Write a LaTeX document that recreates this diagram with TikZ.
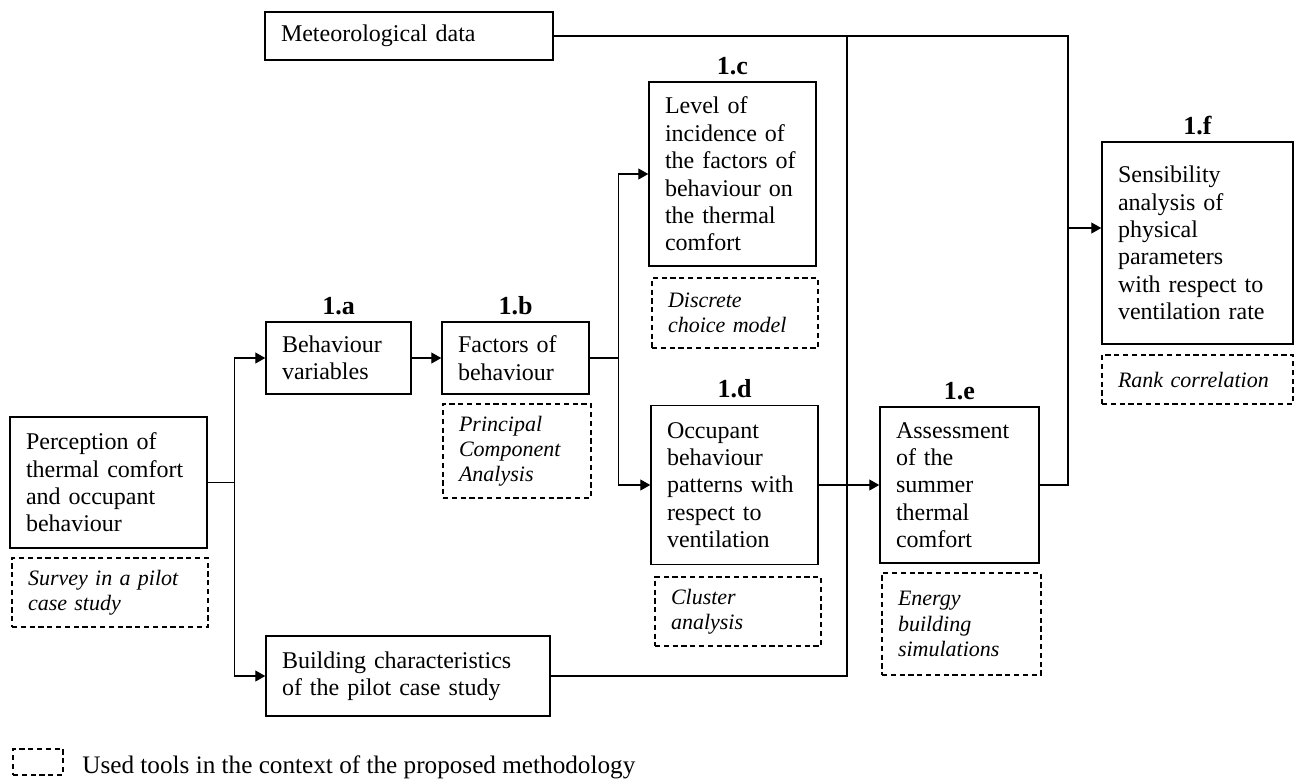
\documentclass[tikz,border=0pt]{standalone}
\usepackage{fontspec}
\setmainfont{Liberation Serif}
\usepackage{tikz}
\usetikzlibrary{arrows.meta, positioning}

\begin{document}
\begin{tikzpicture}[x=0.5pt, y=-0.5pt,
    stage/.style={draw, line width=0.75pt, align=left, inner xsep=8pt, inner ysep=0pt, font=\fontsize{12}{13.7}\selectfont},
    tool/.style={draw, dash pattern=on 2.6pt off 1.8pt, line width=0.6pt, align=left, inner xsep=8pt, inner ysep=0pt, font=\itshape\fontsize{11}{12.6}\selectfont},
    stagelabel/.style={inner sep=0pt, font=\bfseries\fontsize{13}{15}\selectfont},
    flow/.style={-{Triangle[length=5pt, width=5.5pt]}, line width=0.6pt},
    link/.style={line width=0.6pt}]
			\useasboundingbox (0,0) rectangle (1296,778);
			% boxes
			\node[stage, text width=128pt, minimum height=24pt] (met) at (409,36) {Meteorological data};
			\node[stage, text width=82.5pt, minimum height=65.5pt] (perc) at (108.5,482.5) {Perception of\\thermal comfort\\and occupant\\behaviour};
			\node[tool, text width=82pt, minimum height=34.5pt] (survey) at (110,592.5) {Survey in a pilot\\case study};
			\node[stage, text width=56.5pt, minimum height=36pt] (behvar) at (338.5,358) {Behaviour\\variables};
			\node[stage, text width=57.5pt, minimum height=36pt] (factors) at (515.5,358) {Factors of\\behaviour};
			\node[tool, text width=58pt, minimum height=47pt] (pca) at (517,451) {Principal\\Component\\Analysis};
			\node[stage, text width=67.5pt, minimum height=92pt] (level) at (732.5,174) {Level of\\incidence of\\the factors of\\behaviour on\\the thermal\\comfort};
			\node[tool, text width=67pt, minimum height=35pt] (dcm) at (735,313) {Discrete\\choice model};
			\node[stage, text width=67.5pt, minimum height=79.5pt] (patterns) at (734.5,485) {Occupant\\behaviour\\patterns with\\respect to\\ventilation};
			\node[tool, text width=67pt, minimum height=34.5pt] (cluster) at (738,611.5) {Cluster\\analysis};
			\node[stage, text width=63.5pt, minimum height=78pt] (summer) at (959.5,485) {Assessment\\of the\\summer\\thermal\\comfort};
			\node[tool, text width=63.5pt, minimum height=51pt] (ebs) at (961.5,624) {Energy\\building\\simulations};
			\node[stage, text width=79.5pt, minimum height=101pt] (sens) at (1197.5,243) {Sensibility\\analysis of\\physical\\parameters\\with respect to\\ventilation rate};
			\node[tool, text width=79.5pt, minimum height=24.5pt] (rank) at (1197.5,379.5) {Rank correlation};
			\node[stage, text width=126pt, minimum height=40pt] (bldg) at (408,676) {Building characteristics\\of the pilot case study};
			% step labels
			\node[stagelabel, above=3pt of behvar] (la) {1.a};
			\node[stagelabel, above=3pt of factors] (lb) {1.b};
			\node[stagelabel, above=3pt of level] (lc) {1.c};
			\node[stagelabel, above=3pt of patterns] (ld) {1.d};
			\node[stagelabel, above=3pt of summer] (le) {1.e};
			\node[stagelabel, above=3pt of sens] (lf) {1.f};
			% connectors
			\coordinate (split) at ([xshift=13.5pt]perc.east);
			\draw[link] (perc.east) -- (split);
			\draw[flow] (split) |- (behvar.west);
			\draw[flow] (split) |- (bldg.west);
			\draw[flow] (behvar) -- (factors);
			\coordinate (fork) at ([xshift=14.5pt]factors.east);
			\draw[link] (factors.east) -- (fork);
			\draw[flow] (fork) |- (level.west);
			\draw[flow] (fork) |- (patterns.west);
			\draw[flow] (patterns) -- (summer);
			\coordinate (metR) at (1068,36);
			\draw[link] (met.east) -- (metR) |- (summer.east);
			\coordinate (toSens) at (1068,228);
			\draw[flow] (toSens) -- (toSens -| sens.west);
			\coordinate (metM) at (847,36);
			\draw[link] (metM) |- (bldg.east);
			% legend
			\node[tool, minimum width=25pt, minimum height=13pt, inner sep=0pt] (legbox) at (38,762) {};
			\node[anchor=base west, inner sep=0pt, font=\fontsize{12.6}{14}\selectfont] (legtext) at (82,773) {Used tools in the context of the proposed methodology};
		\end{tikzpicture}
\end{document}
